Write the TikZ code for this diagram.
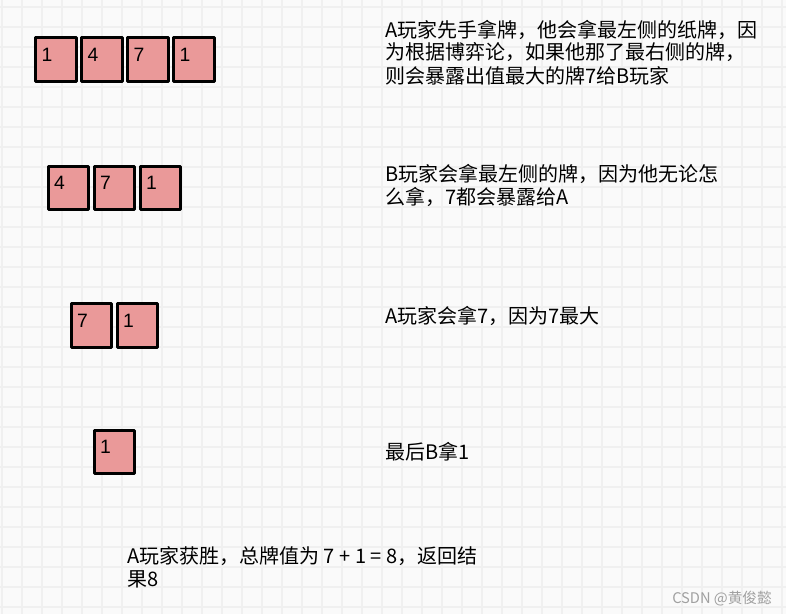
\documentclass[tikz,border=0pt]{standalone}
\usepackage{fontspec}
\setmainfont{Noto Sans CJK SC}
\newfontfamily\numfont{Liberation Sans}
\definecolor{cardpink}{RGB}{234,153,153}
\definecolor{bgcol}{RGB}{250,250,250}
\definecolor{gridcol}{RGB}{240,240,240}
\definecolor{markgray}{RGB}{160,160,160}
\begin{document}
\begin{tikzpicture}[x=0.75pt,y=-0.75pt,
  card/.style={draw=black, fill=cardpink, line width=2.1pt, minimum width=30.5pt,
    minimum height=32.5pt, inner sep=0pt, line join=round},
  num/.style={font=\numfont\fontsize{14.5pt}{16pt}\selectfont, anchor=base west, inner sep=0pt},
  txt/.style={font=\fontsize{15pt}{17pt}\selectfont, anchor=base west, inner sep=0pt, text=black},
  wmtext/.style={font=\fontsize{11pt}{13pt}\selectfont, anchor=base west, inner sep=0pt, text=markgray},
]
\useasboundingbox (0,0) rectangle (786,614);
\fill[bgcol] (0,0) rectangle (786,614);
\foreach \i in {0,...,39} \draw[gridcol, line width=1.2pt] (2+20*\i,0) -- (2+20*\i,614);
\foreach \j in {0,...,30} \draw[gridcol, line width=1.2pt] (0,7+20*\j) -- (786,7+20*\j);

% row 1
\foreach \n/\x/\v in {a1/56/1, a2/102/4, a3/148/7, a4/194/1} {
  \node[card] (\n) at (\x,59.5) {};
  \node[num] (\n t) at ([shift={(7,25)}]\n.north west) {\v};
}
% row 2
\foreach \n/\x/\v in {b1/68.5/4, b2/114.5/7, b3/160.5/1} {
  \node[card] (\n) at (\x,188) {};
  \node[num] (\n t) at ([shift={(7,25)}]\n.north west) {\v};
}
% row 3
\foreach \n/\x/\v in {c1/91.5/7, c2/137.5/1} {
  \node[card] (\n) at (\x,325.5) {};
  \node[num] (\n t) at ([shift={(7,25)}]\n.north west) {\v};
}
% row 4
\node[card] (d1) at (114.5,452) {};
\node[num] (d1t) at ([shift={(7,25)}]d1.north west) {1};

% explanations
\node[txt] (s1a) at (385,37) {A玩家先手拿牌，他会拿最左侧的纸牌，因};
\node[txt] (s1b) at (385,60) {为根据博弈论，如果他那了最右侧的牌，};
\node[txt] (s1c) at (385,83) {则会暴露出值最大的牌7给B玩家};

\node[txt] (s2a) at (385,181) {B玩家会拿最左侧的牌，因为他无论怎};
\node[txt] (s2b) at (385,204) {么拿，7都会暴露给A};

\node[txt] (s3) at (385,323) {A玩家会拿7，因为7最大};

\node[txt] (s4) at (385,459) {最后B拿1};

\node[txt] (s5a) at (127,563) {A玩家获胜，总牌值为 7 + 1 = 8，返回结};
\node[txt] (s5b) at (127,586) {果8};

\node[wmtext] (wm) at (672,603) {CSDN @黄俊懿};
\end{tikzpicture}
\end{document}
